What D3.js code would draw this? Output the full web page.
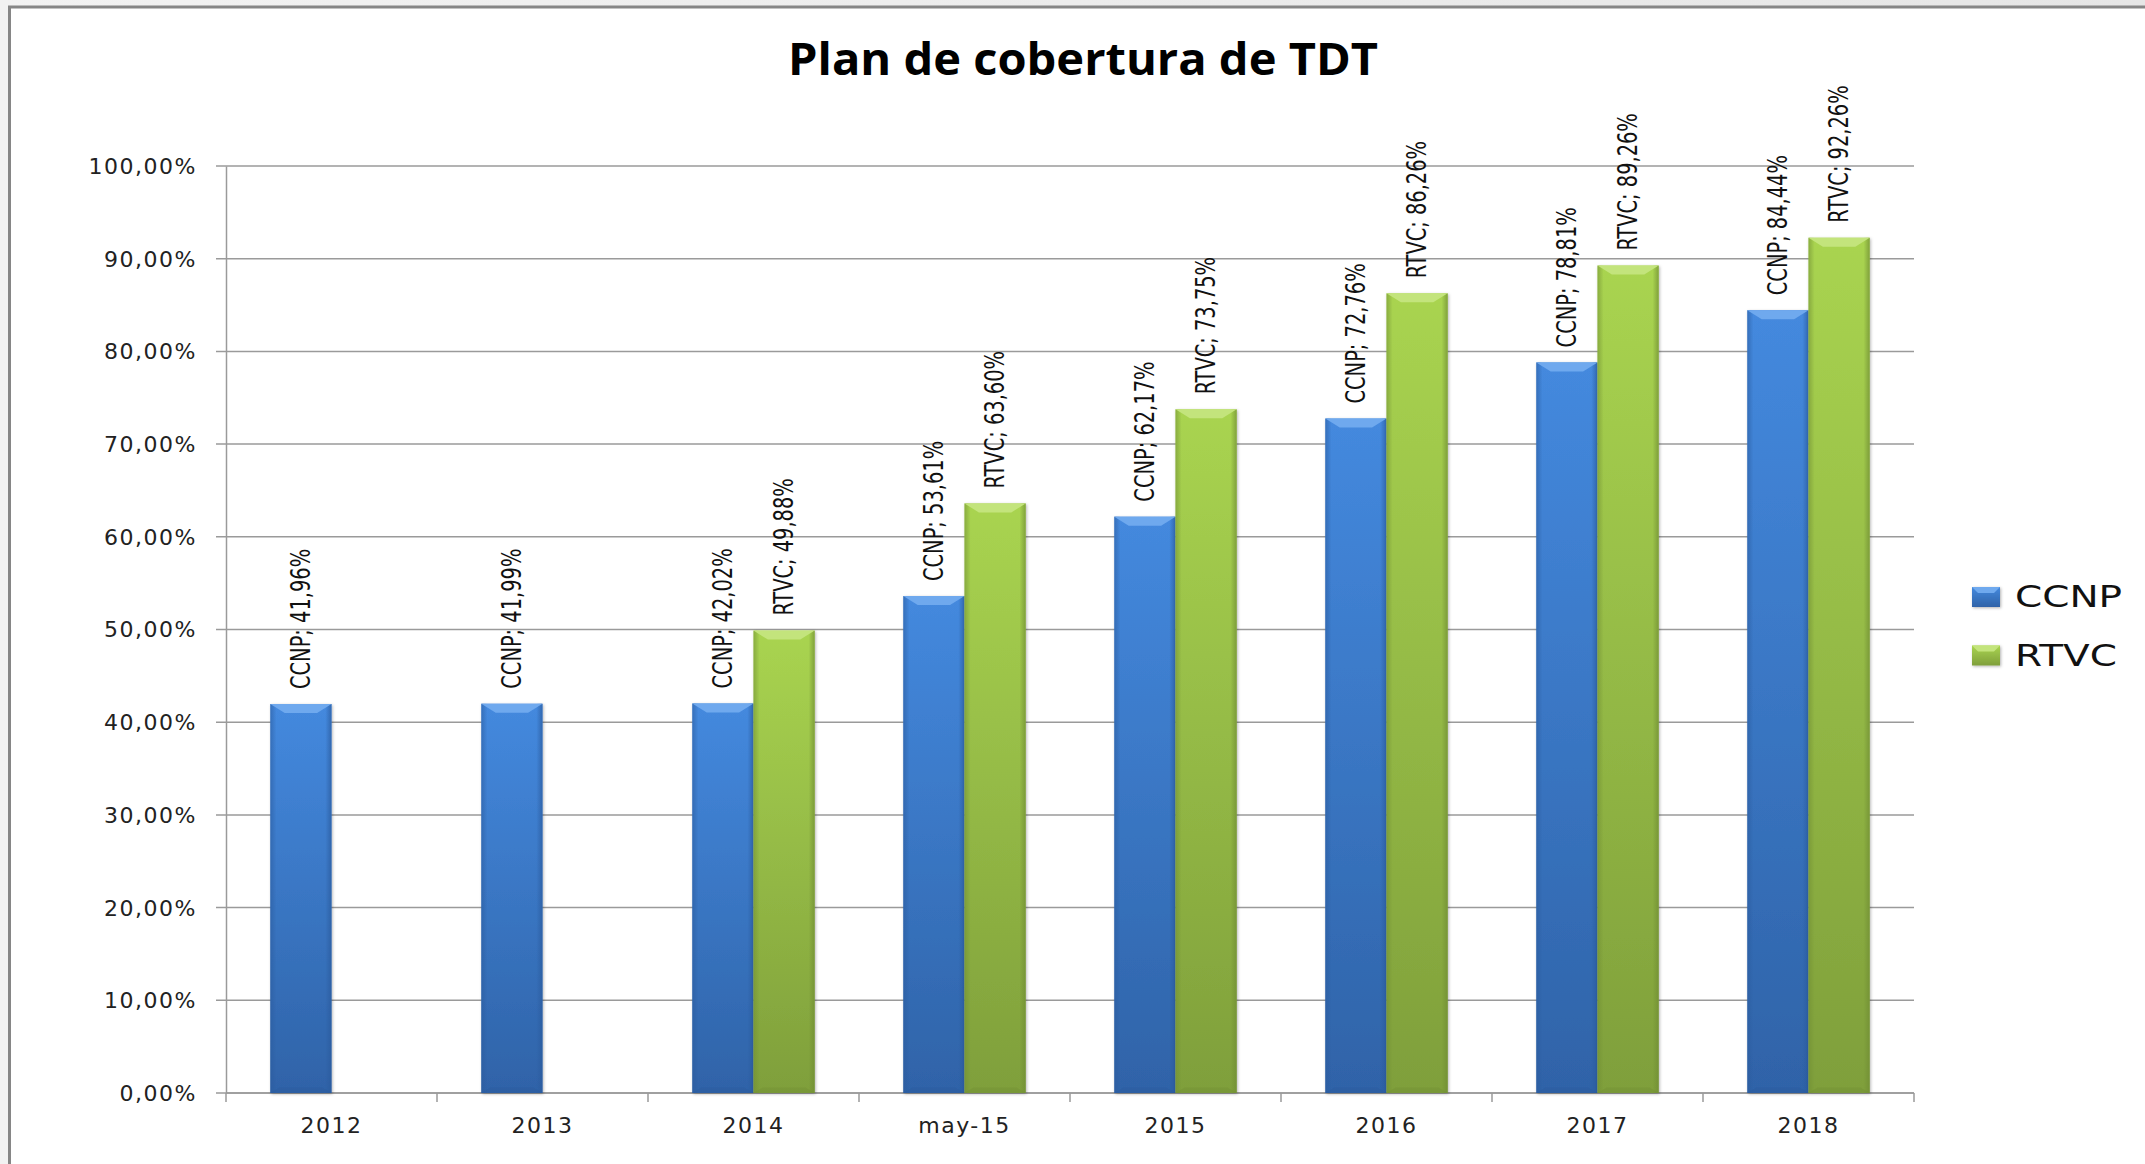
<!DOCTYPE html>
<html>
<head>
<meta charset="utf-8">
<script src="https://cdn.jsdelivr.net/npm/d3@7"></script>
<style>
  html, body { margin: 0; padding: 0; background: #ebebeb; }
  svg { display: block; }
  .axis-label { font-family: "DejaVu Sans", Verdana, sans-serif; font-size: 22px; fill: #222; letter-spacing: 1.5px; }
  .data-label { font-family: "Liberation Sans Narrow", "DejaVu Sans Condensed", sans-serif; font-stretch: condensed; font-size: 27px; fill: #111; }
</style>
</head>
<body>
<div id="chart"></div>
<script>
// chart data
const categories = ["2012", "2013", "2014", "may-15", "2015", "2016", "2017", "2018"];
const seriesNames = ["CCNP", "RTVC"];
const ccnpValues = [41.96, 41.99, 42.02, 53.61, 62.17, 72.76, 78.81, 84.44];
const rtvcValues = [null, null, 49.88, 63.60, 73.75, 86.26, 89.26, 92.26];
const yTickValues = [0, 10, 20, 30, 40, 50, 60, 70, 80, 90, 100];
const chartTitle = "Plan de cobertura de TDT";

const W = 2145, H = 1164;
const margin = { top: 166, right: 231, bottom: 71, left: 226 };
const width = W - margin.left - margin.right;
const height = H - margin.top - margin.bottom;

const locale = d3.formatLocale({ decimal: ",", thousands: ".", grouping: [3], currency: ["", "€"] });
const fmt = locale.format(".2f");

const colors = {
    CCNP: { top: "#4489de", bottom: "#2f63a8", bevel: "#6fa9ee", edge: "#2a5a9c" },
    RTVC: { top: "#a9d450", bottom: "#7f9f3b", bevel: "#c3e47c", edge: "#6f8c33" }
};

const svg = d3.select("#chart").append("svg")
    .attr("width", W)
    .attr("height", H);

// outer frame
const defs = svg.append("defs");
const bg = defs.append("linearGradient").attr("id", "bg").attr("x1", 0).attr("y1", 0).attr("x2", 1).attr("y2", 0);
bg.append("stop").attr("offset", 0).attr("stop-color", "#f2f2f2");
bg.append("stop").attr("offset", 1).attr("stop-color", "#e6e6e6");
svg.append("rect").attr("width", W).attr("height", H).attr("fill", "url(#bg)");
svg.append("rect")
    .attr("x", 9.5).attr("y", 7)
    .attr("width", W + 20).attr("height", H + 20)
    .attr("fill", "#fff")
    .attr("stroke", "#868686")
    .attr("stroke-width", 3);

// bar gradients
seriesNames.forEach(name => {
    const g = defs.append("linearGradient").attr("id", "grad-" + name)
        .attr("x1", 0).attr("y1", 0).attr("x2", 0).attr("y2", 1);
    g.append("stop").attr("offset", 0).attr("stop-color", colors[name].top);
    g.append("stop").attr("offset", 1).attr("stop-color", colors[name].bottom);
    const s = defs.append("linearGradient").attr("id", "side-" + name)
        .attr("x1", 0).attr("y1", 0).attr("x2", 1).attr("y2", 0);
    s.append("stop").attr("offset", 0).attr("stop-color", colors[name].edge).attr("stop-opacity", 0.55);
    s.append("stop").attr("offset", 0.1).attr("stop-color", colors[name].edge).attr("stop-opacity", 0);
    s.append("stop").attr("offset", 0.9).attr("stop-color", colors[name].edge).attr("stop-opacity", 0);
    s.append("stop").attr("offset", 1).attr("stop-color", colors[name].edge).attr("stop-opacity", 0.7);
});
const shadow = defs.append("filter").attr("id", "shadow").attr("x", -0.2).attr("y", -0.2).attr("width", 1.4).attr("height", 1.4);
shadow.append("feDropShadow").attr("dx", 1).attr("dy", 1).attr("stdDeviation", 1.5).attr("flood-color", "#000").attr("flood-opacity", 0.3);

// title
svg.append("text")
    .attr("x", 1083).attr("y", 75)
    .attr("text-anchor", "middle")
    .style("font-family", "'Open Sans', Lato, sans-serif")
    .style("font-weight", "bold")
    .style("font-size", "44px")
    .attr("textLength", 590)
    .attr("lengthAdjust", "spacingAndGlyphs")
    .text(chartTitle);

const g = svg.append("g").attr("transform", "translate(" + margin.left + "," + margin.top + ")");

// scales
const x0 = d3.scaleBand().domain(categories).range([0, width]).paddingInner(0.42).paddingOuter(0.21);
const x1 = d3.scaleBand().domain(seriesNames).range([0, x0.bandwidth()]);
const y = d3.scaleLinear().domain([0, 100]).range([height, 0]);

// gridlines
g.append("g").attr("class", "grid")
    .selectAll("line").data(yTickValues).join("line")
    .attr("x1", -10).attr("x2", width)
    .attr("y1", d => y(d)).attr("y2", d => y(d))
    .attr("stroke", "#9a9a9a").attr("stroke-width", 1.5);

// y axis
const yAxis = g.append("g").attr("class", "axis-y")
    .call(d3.axisLeft(y).tickValues(yTickValues).tickSize(0).tickPadding(29).tickFormat(d => fmt(d) + "%"));
yAxis.select(".domain").attr("stroke", "#9a9a9a").attr("stroke-width", 1.5);
yAxis.selectAll("text").attr("class", "axis-label").attr("dy", "0.34em");

// x axis
const xAxis = g.append("g").attr("class", "axis-x")
    .attr("transform", "translate(0," + height + ")")
    .call(d3.axisBottom(x0).tickSize(0).tickPadding(24));
xAxis.select(".domain").attr("stroke", "#9a9a9a").attr("stroke-width", 1.5).attr("d", "M0,0H" + width);
xAxis.selectAll("text").attr("class", "axis-label").attr("dy", "0.71em");
g.append("g").selectAll("line").data(d3.range(categories.length + 1)).join("line")
    .attr("x1", i => i * x0.step()).attr("x2", i => i * x0.step())
    .attr("y1", height).attr("y2", height + 9)
    .attr("stroke", "#9a9a9a").attr("stroke-width", 1.5);

// bars
const rows = categories.map((c, i) => ({
    category: c,
    values: [
        { name: "CCNP", value: ccnpValues[i] },
        { name: "RTVC", value: rtvcValues[i] }
    ].filter(d => d.value != null)
}));

const bevel = 9;
const groups = g.append("g").selectAll("g").data(rows).join("g")
    .attr("transform", d => "translate(" + x0(d.category) + ",0)");

const bar = groups.selectAll("g.bar").data(d => d.values).join("g")
    .attr("class", "bar")
    .attr("transform", d => "translate(" + x1(d.name) + "," + y(d.value) + ")");

bar.append("rect")
    .attr("width", x1.bandwidth())
    .attr("height", d => height - y(d.value))
    .attr("fill", d => "url(#grad-" + d.name + ")")
    .attr("filter", "url(#shadow)");
bar.append("rect")
    .attr("width", x1.bandwidth())
    .attr("height", d => height - y(d.value))
    .attr("fill", d => "url(#side-" + d.name + ")");
bar.append("path")
    .attr("d", () => {
        const w = x1.bandwidth();
        return "M0,0H" + w + "L" + (w - bevel * 1.6) + "," + bevel + "H" + (bevel * 1.6) + "Z";
    })
    .attr("fill", d => colors[d.name].bevel);
bar.append("path")
    .attr("d", d => {
        const w = x1.bandwidth(), h = height - y(d.value);
        return "M0," + h + "H" + w + "L" + (w - bevel) + "," + (h - bevel * 0.6) + "H" + bevel + "Z";
    })
    .attr("fill", d => colors[d.name].edge)
    .attr("opacity", 0.35);

// data labels
groups.selectAll("text.data-label").data(d => d.values).join("text")
    .attr("class", "data-label")
    .attr("transform", d => "translate(" + (x1(d.name) + x1.bandwidth() / 2) + "," + (y(d.value) - 15) + ") rotate(-90) scale(0.8,1)")
    .attr("dominant-baseline", "central")
    .text(d => d.name + "; " + fmt(d.value) + "%");

// legend
const legend = svg.append("g").attr("transform", "translate(1972,597)");
const item = legend.selectAll("g").data(seriesNames).join("g")
    .attr("transform", (d, i) => "translate(0," + (i * 58.5) + ")");
item.append("rect")
    .attr("x", 0).attr("y", -10).attr("width", 28).attr("height", 20)
    .attr("fill", d => "url(#grad-" + d + ")")
    .attr("filter", "url(#shadow)");
item.append("path")
    .attr("d", "M0,-10H28L22,-4H6Z")
    .attr("fill", d => colors[d].bevel);
item.append("text")
    .attr("transform", "translate(43,10) scale(1.3,1)")
    .style("font-family", "'DejaVu Sans', Verdana, sans-serif")
    .style("font-size", "30px")
    .attr("fill", "#111")
    .text(d => d);
</script>
</body>
</html>
